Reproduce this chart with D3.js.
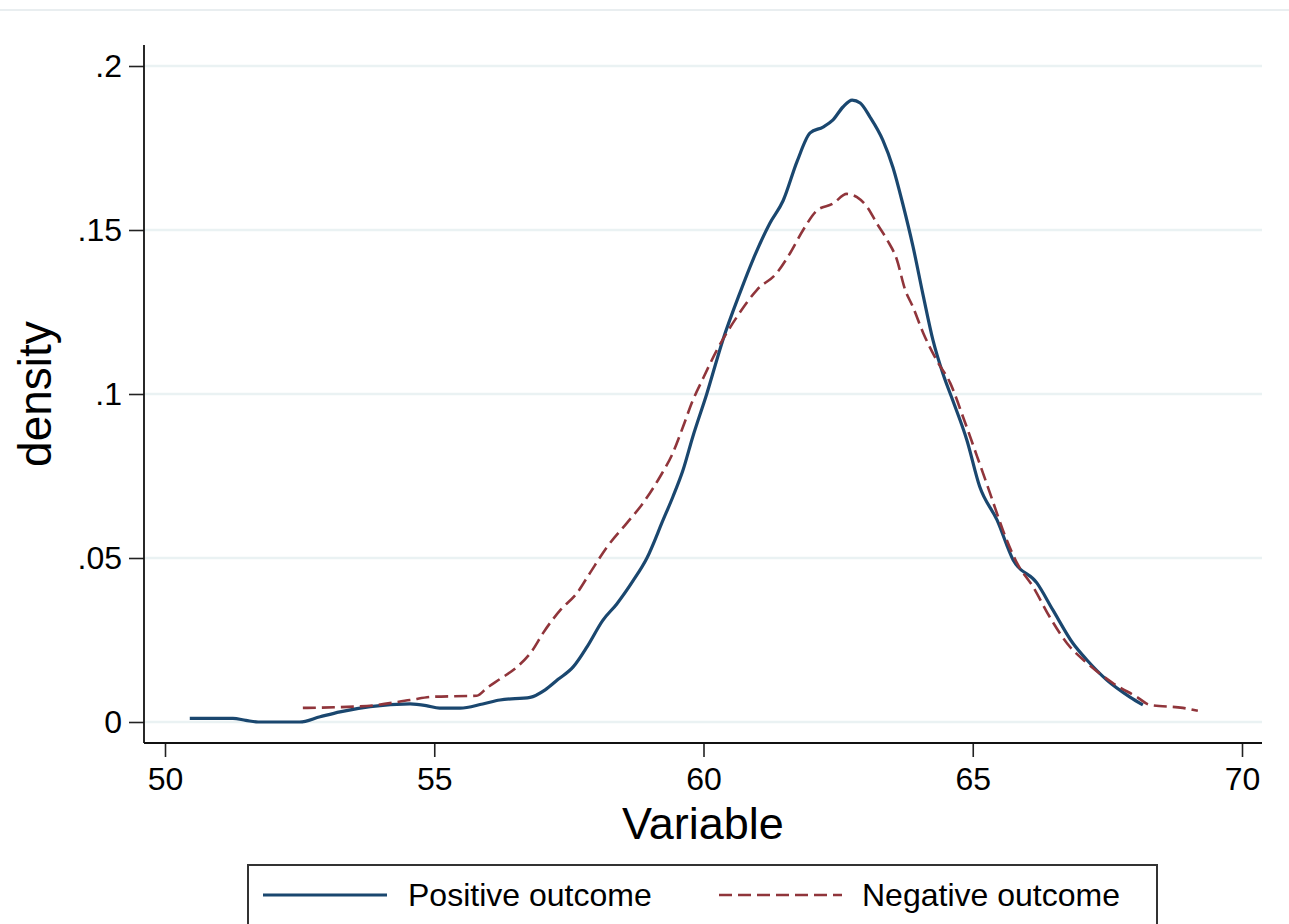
<!DOCTYPE html>
<html>
<head>
<meta charset="utf-8">
<script src="https://cdn.jsdelivr.net/npm/d3@7"></script>
<style>
  html, body { margin: 0; padding: 0; background: #fff; }
  svg { display: block; font-family: "Liberation Sans", Arial, sans-serif; }
</style>
</head>
<body>
<svg id="chart" width="1289" height="924"></svg>
<script>
// ---- data ----
const posX = [50.46, 51.26, 51.5, 51.73, 52.5, 52.88, 53.25, 53.81, 54.55, 54.85, 55.1, 55.48, 55.9, 56.22, 56.78, 57.06, 57.3, 57.58, 57.84, 58.13, 58.39, 58.69, 58.95, 59.25, 59.43, 59.62, 59.8, 60.06, 60.36, 60.68, 60.92, 61.23, 61.48, 61.74, 61.98, 62.22, 62.40, 62.59, 62.76, 62.91, 63.09, 63.33, 63.52, 63.70, 63.89, 64.08, 64.26, 64.45, 64.63, 64.89, 65.13, 65.45, 65.75, 66.19, 66.49, 66.86, 67.12, 67.49, 67.92, 68.16];
const posY = [0.0011, 0.0011, 0.0005, 0.0, 0.0, 0.0016, 0.0031, 0.0047, 0.0055, 0.005, 0.0042, 0.0042, 0.0055, 0.0067, 0.0075, 0.0098, 0.013, 0.0168, 0.023, 0.031, 0.036, 0.043, 0.050, 0.0616, 0.0686, 0.0768, 0.0869, 0.100, 0.1165, 0.131, 0.141, 0.152, 0.159, 0.171, 0.1796, 0.1814, 0.1835, 0.1875, 0.1896, 0.1887, 0.1845, 0.1774, 0.169, 0.158, 0.145, 0.130, 0.1165, 0.106, 0.098, 0.086, 0.0717, 0.0616, 0.0494, 0.0424, 0.0341, 0.024, 0.0189, 0.0128, 0.0076, 0.0052];
const negX = [52.56, 53.75, 54.55, 54.98, 55.79, 55.98, 56.22, 56.54, 56.83, 57.02, 57.34, 57.65, 57.89, 58.21, 58.58, 58.88, 59.19, 59.43, 59.62, 59.80, 59.97, 60.25, 60.62, 60.99, 61.36, 61.61, 61.85, 62.11, 62.40, 62.66, 62.85, 63.04, 63.22, 63.41, 63.59, 63.74, 63.89, 64.08, 64.34, 64.58, 64.82, 65.08, 65.32, 65.56, 65.82, 66.12, 66.43, 66.75, 67.12, 67.60, 68.05, 68.29, 68.90, 69.18];
const negY = [0.0043, 0.0049, 0.0067, 0.0077, 0.0080, 0.0104, 0.0131, 0.0168, 0.022, 0.0271, 0.0341, 0.0393, 0.0454, 0.0534, 0.0607, 0.0668, 0.0747, 0.082, 0.090, 0.098, 0.104, 0.1134, 0.1235, 0.1317, 0.1369, 0.143, 0.150, 0.156, 0.158, 0.161, 0.160, 0.157, 0.152, 0.147, 0.141, 0.132, 0.1265, 0.1186, 0.110, 0.1034, 0.093, 0.081, 0.0698, 0.0585, 0.0485, 0.0412, 0.032, 0.024, 0.018, 0.0119, 0.0076, 0.0052, 0.0043, 0.0034];
const xTicks = [50, 55, 60, 65, 70];
const xTickLabels = ["50", "55", "60", "65", "70"];
const yTicks = [0, 0.05, 0.1, 0.15, 0.2];
const yTickLabels = ["0", ".05", ".1", ".15", ".2"];
const seriesNames = ["Positive outcome", "Negative outcome"];
const xTitle = "Variable";
const yTitle = "density";

// ---- layout ----
const svg = d3.select("#chart");
const x = d3.scaleLinear().domain([50, 70]).range([165, 1242]);
const y = d3.scaleLinear().domain([0, 0.2]).range([722, 66]);
const axL = 144, axR = 1262, axT = 45, axB = 743;
const blue = "#1a476f", red = "#90353b";

// top light border line
svg.append("line").attr("x1", 0).attr("x2", 1289).attr("y1", 10).attr("y2", 10)
  .attr("stroke", "#e9eef0").attr("stroke-width", 2);

// gridlines
svg.append("g").selectAll("line").data(yTicks).join("line")
  .attr("x1", axL + 1).attr("x2", axR)
  .attr("y1", d => y(d)).attr("y2", d => y(d))
  .attr("stroke", "#eaf2f3").attr("stroke-width", 2.5);

// axes
const xAxis = d3.axisBottom(x).tickValues(xTicks)
  .tickFormat((d, i) => xTickLabels[i]).tickSize(14).tickPadding(10).tickSizeOuter(0);
const gx = svg.append("g").attr("transform", `translate(0,${axB})`).call(xAxis);
gx.select(".domain").remove();
gx.selectAll(".tick line").attr("stroke", "#222").attr("stroke-width", 1.6);
gx.selectAll(".tick text").attr("font-size", 32).attr("fill", "#000")
  .attr("font-family", "Liberation Sans, Arial, sans-serif");

const yAxis = d3.axisLeft(y).tickValues(yTicks)
  .tickFormat((d, i) => yTickLabels[i]).tickSize(15).tickPadding(7).tickSizeOuter(0);
const gy = svg.append("g").attr("transform", `translate(${axL},0)`).call(yAxis);
gy.select(".domain").remove();
gy.selectAll(".tick line").attr("stroke", "#222").attr("stroke-width", 1.6);
gy.selectAll(".tick text").attr("font-size", 32).attr("fill", "#000")
  .attr("font-family", "Liberation Sans, Arial, sans-serif");

svg.append("line").attr("x1", axL).attr("x2", axL).attr("y1", axT).attr("y2", axB)
  .attr("stroke", "#111").attr("stroke-width", 1.8);
svg.append("line").attr("x1", axL).attr("x2", axR).attr("y1", axB).attr("y2", axB)
  .attr("stroke", "#111").attr("stroke-width", 1.8);

// lines
const line = d3.line().x(d => x(d[0])).y(d => y(d[1])).curve(d3.curveMonotoneX);
const posData = posX.map((v, i) => [v, posY[i]]);
const negData = negX.map((v, i) => [v, negY[i]]);
svg.append("path").datum(posData).attr("d", line)
  .attr("fill", "none").attr("stroke", blue).attr("stroke-width", 3.2)
  .attr("stroke-linejoin", "round");
svg.append("path").datum(negData).attr("d", line)
  .attr("fill", "none").attr("stroke", red).attr("stroke-width", 2.6)
  .attr("stroke-dasharray", "13,6");

// titles
svg.append("text").attr("x", (axL + axR) / 2).attr("y", 839)
  .attr("text-anchor", "middle").attr("font-size", 45).attr("fill", "#000").text(xTitle);
svg.append("text").attr("transform", `translate(51,${(axT + axB) / 2}) rotate(-90)`)
  .attr("text-anchor", "middle").attr("font-size", 46).attr("fill", "#000").text(yTitle);

// legend
const lg = svg.append("g");
lg.append("rect").attr("x", 248).attr("y", 865).attr("width", 909).attr("height", 80)
  .attr("fill", "#fff").attr("stroke", "#333").attr("stroke-width", 2);
lg.append("line").attr("x1", 263).attr("x2", 387).attr("y1", 895).attr("y2", 895)
  .attr("stroke", blue).attr("stroke-width", 3.2);
lg.append("text").attr("x", 408).attr("y", 906).attr("font-size", 32).attr("fill", "#000")
  .text(seriesNames[0]);
lg.append("line").attr("x1", 719).attr("x2", 842).attr("y1", 895).attr("y2", 895)
  .attr("stroke", red).attr("stroke-width", 2.6).attr("stroke-dasharray", "13,6");
lg.append("text").attr("x", 862).attr("y", 906).attr("font-size", 32).attr("fill", "#000")
  .text(seriesNames[1]);
</script>
</body>
</html>
